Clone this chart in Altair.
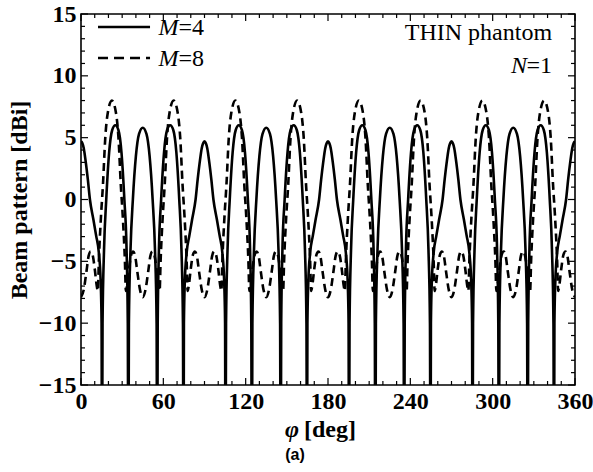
import altair as alt
import pandas as pd

# ---------------- data ----------------
# M=4 (solid), four quarter-periods
phi_m4_q1 = [0, 1, 2, 3.5, 5, 6.5, 9, 11, 13, 14.3, 15, 15.3, 15.7, 16.8, 18.4, 20.5, 22.7, 25, 27.3, 29.5, 31.6, 33.2,
             34.1, 34.5, 34.9, 36.1, 37.8, 40, 42.3, 45, 47.7, 50, 52.2, 53.9, 55.1, 55.5, 55.9, 56.8, 58.4, 60.5, 62.7, 65,
             67.3, 69.5, 71.6, 73.2, 74.3, 74.7, 75, 75.7, 77, 79, 81, 83.5, 85, 86.5, 88, 89]
bp_m4_q1 = [4.7, 4.55, 4.15, 3.0, 1.6, 0, -1.6, -2.9, -4.3, -6.5, -10, -25, -10, -4, 0, 3.8, 5.6, 6.0, 5.6, 3.8, 0, -4,
            -10, -25, -10, -4, 0, 3.5, 5.3, 5.8, 5.3, 3.5, 0, -4, -10, -25, -10, -4, 0, 3.8, 5.6, 6.0,
            5.6, 3.8, 0, -4, -10, -25, -10, -6.5, -4.3, -2.9, -1.6, 0, 1.6, 3.0, 4.15, 4.55]
phi_m4_q2 = [90, 91, 92, 93.5, 95, 96.5, 99, 101, 103, 104.3, 105, 105.3, 105.7, 106.8, 108.4, 110.5, 112.7, 115, 117.3, 119.5, 121.6, 123.2,
             124.1, 124.5, 124.9, 126.1, 127.8, 130, 132.3, 135, 137.7, 140, 142.2, 143.9, 145.1, 145.5, 145.9, 146.8, 148.4, 150.5, 152.7, 155,
             157.3, 159.5, 161.6, 163.2, 164.3, 164.7, 165, 165.7, 167, 169, 171, 173.5, 175, 176.5, 178, 179]
bp_m4_q2 = [4.7, 4.55, 4.15, 3.0, 1.6, 0, -1.6, -2.9, -4.3, -6.5, -10, -25, -10, -4, 0, 3.8, 5.6, 6.0, 5.6, 3.8, 0, -4,
            -10, -25, -10, -4, 0, 3.5, 5.3, 5.8, 5.3, 3.5, 0, -4, -10, -25, -10, -4, 0, 3.8, 5.6, 6.0,
            5.6, 3.8, 0, -4, -10, -25, -10, -6.5, -4.3, -2.9, -1.6, 0, 1.6, 3.0, 4.15, 4.55]
phi_m4_q3 = [180, 181, 182, 183.5, 185, 186.5, 189, 191, 193, 194.3, 195, 195.3, 195.7, 196.8, 198.4, 200.5, 202.7, 205, 207.3, 209.5, 211.6, 213.2,
             214.1, 214.5, 214.9, 216.1, 217.8, 220, 222.3, 225, 227.7, 230, 232.2, 233.9, 235.1, 235.5, 235.9, 236.8, 238.4, 240.5, 242.7, 245,
             247.3, 249.5, 251.6, 253.2, 254.3, 254.7, 255, 255.7, 257, 259, 261, 263.5, 265, 266.5, 268, 269]
bp_m4_q3 = [4.7, 4.55, 4.15, 3.0, 1.6, 0, -1.6, -2.9, -4.3, -6.5, -10, -25, -10, -4, 0, 3.8, 5.6, 6.0, 5.6, 3.8, 0, -4,
            -10, -25, -10, -4, 0, 3.5, 5.3, 5.8, 5.3, 3.5, 0, -4, -10, -25, -10, -4, 0, 3.8, 5.6, 6.0,
            5.6, 3.8, 0, -4, -10, -25, -10, -6.5, -4.3, -2.9, -1.6, 0, 1.6, 3.0, 4.15, 4.55]
phi_m4_q4 = [270, 271, 272, 273.5, 275, 276.5, 279, 281, 283, 284.3, 285, 285.3, 285.7, 286.8, 288.4, 290.5, 292.7, 295, 297.3, 299.5, 301.6, 303.2,
             304.1, 304.5, 304.9, 306.1, 307.8, 310, 312.3, 315, 317.7, 320, 322.2, 323.9, 325.1, 325.5, 325.9, 326.8, 328.4, 330.5, 332.7, 335,
             337.3, 339.5, 341.6, 343.2, 344.3, 344.7, 345, 345.7, 347, 349, 351, 353.5, 355, 356.5, 358, 359, 360]
bp_m4_q4 = [4.7, 4.55, 4.15, 3.0, 1.6, 0, -1.6, -2.9, -4.3, -6.5, -10, -25, -10, -4, 0, 3.8, 5.6, 6.0, 5.6, 3.8, 0, -4,
            -10, -25, -10, -4, 0, 3.5, 5.3, 5.8, 5.3, 3.5, 0, -4, -10, -25, -10, -4, 0, 3.8, 5.6, 6.0,
            5.6, 3.8, 0, -4, -10, -25, -10, -6.5, -4.3, -2.9, -1.6, 0, 1.6, 3.0, 4.15, 4.55, 4.7]

# M=8 (dashed), four quarter-periods
phi_m8_q1 = [0, 2, 4, 5.5, 7, 8.5, 10, 11.5, 12.3, 13, 14.5, 16, 17.7, 19.5, 22.5, 25.5, 27.3, 29, 30.5, 32,
             32.7, 33.5, 35, 36.5, 38, 39.5, 41, 43, 45, 47, 49, 50.5, 52, 53.5, 55, 56.5, 57.3, 58, 59.5, 61,
             62.7, 64.5, 67.5, 70.5, 72.3, 74, 75.5, 77, 77.7, 78.5, 80, 81.5, 83, 84.5, 86, 88]
bp_m8_q1 = [-7.9, -7.3, -5.8, -4.6, -4.2, -4.5, -5.6, -7.0, -7.4, -5.0, -1.5, 1.2, 5.0, 7.0, 8.0, 7.0, 5.0, 1.2, -1.5, -5.0,
            -7.4, -7.0, -5.6, -4.5, -4.2, -4.6, -5.8, -7.3, -7.9, -7.3, -5.8, -4.6, -4.2, -4.5, -5.6, -7.0, -7.4, -5.0, -1.5, 1.2,
            5.0, 7.0, 8.0, 7.0, 5.0, 1.2, -1.5, -5.0, -7.4, -7.0, -5.6, -4.5, -4.2, -4.6, -5.8, -7.3]
phi_m8_q2 = [90, 92, 94, 95.5, 97, 98.5, 100, 101.5, 102.3, 103, 104.5, 106, 107.7, 109.5, 112.5, 115.5, 117.3, 119, 120.5, 122,
             122.7, 123.5, 125, 126.5, 128, 129.5, 131, 133, 135, 137, 139, 140.5, 142, 143.5, 145, 146.5, 147.3, 148, 149.5, 151,
             152.7, 154.5, 157.5, 160.5, 162.3, 164, 165.5, 167, 167.7, 168.5, 170, 171.5, 173, 174.5, 176, 178]
bp_m8_q2 = [-7.9, -7.3, -5.8, -4.6, -4.2, -4.5, -5.6, -7.0, -7.4, -5.0, -1.5, 1.2, 5.0, 7.0, 8.0, 7.0, 5.0, 1.2, -1.5, -5.0,
            -7.4, -7.0, -5.6, -4.5, -4.2, -4.6, -5.8, -7.3, -7.9, -7.3, -5.8, -4.6, -4.2, -4.5, -5.6, -7.0, -7.4, -5.0, -1.5, 1.2,
            5.0, 7.0, 8.0, 7.0, 5.0, 1.2, -1.5, -5.0, -7.4, -7.0, -5.6, -4.5, -4.2, -4.6, -5.8, -7.3]
phi_m8_q3 = [180, 182, 184, 185.5, 187, 188.5, 190, 191.5, 192.3, 193, 194.5, 196, 197.7, 199.5, 202.5, 205.5, 207.3, 209, 210.5, 212,
             212.7, 213.5, 215, 216.5, 218, 219.5, 221, 223, 225, 227, 229, 230.5, 232, 233.5, 235, 236.5, 237.3, 238, 239.5, 241,
             242.7, 244.5, 247.5, 250.5, 252.3, 254, 255.5, 257, 257.7, 258.5, 260, 261.5, 263, 264.5, 266, 268]
bp_m8_q3 = [-7.9, -7.3, -5.8, -4.6, -4.2, -4.5, -5.6, -7.0, -7.4, -5.0, -1.5, 1.2, 5.0, 7.0, 8.0, 7.0, 5.0, 1.2, -1.5, -5.0,
            -7.4, -7.0, -5.6, -4.5, -4.2, -4.6, -5.8, -7.3, -7.9, -7.3, -5.8, -4.6, -4.2, -4.5, -5.6, -7.0, -7.4, -5.0, -1.5, 1.2,
            5.0, 7.0, 8.0, 7.0, 5.0, 1.2, -1.5, -5.0, -7.4, -7.0, -5.6, -4.5, -4.2, -4.6, -5.8, -7.3]
phi_m8_q4 = [270, 272, 274, 275.5, 277, 278.5, 280, 281.5, 282.3, 283, 284.5, 286, 287.7, 289.5, 292.5, 295.5, 297.3, 299, 300.5, 302,
             302.7, 303.5, 305, 306.5, 308, 309.5, 311, 313, 315, 317, 319, 320.5, 322, 323.5, 325, 326.5, 327.3, 328, 329.5, 331,
             332.7, 334.5, 337.5, 340.5, 342.3, 344, 345.5, 347, 347.7, 348.5, 350, 351.5, 353, 354.5, 356, 358, 360]
bp_m8_q4 = [-7.9, -7.3, -5.8, -4.6, -4.2, -4.5, -5.6, -7.0, -7.4, -5.0, -1.5, 1.2, 5.0, 7.0, 8.0, 7.0, 5.0, 1.2, -1.5, -5.0,
            -7.4, -7.0, -5.6, -4.5, -4.2, -4.6, -5.8, -7.3, -7.9, -7.3, -5.8, -4.6, -4.2, -4.5, -5.6, -7.0, -7.4, -5.0, -1.5, 1.2,
            5.0, 7.0, 8.0, 7.0, 5.0, 1.2, -1.5, -5.0, -7.4, -7.0, -5.6, -4.5, -4.2, -4.6, -5.8, -7.3, -7.9]

x_tick_labels = [0, 60, 120, 180, 240, 300, 360]
y_tick_labels = [-15, -10, -5, 0, 5, 10, 15]

# ---------------- tables ----------------
m4 = pd.DataFrame({"phi": phi_m4_q1 + phi_m4_q2 + phi_m4_q3 + phi_m4_q4,
                   "bp": bp_m4_q1 + bp_m4_q2 + bp_m4_q3 + bp_m4_q4})
m8 = pd.DataFrame({"phi": phi_m8_q1 + phi_m8_q2 + phi_m8_q3 + phi_m8_q4,
                   "bp": bp_m8_q1 + bp_m8_q2 + bp_m8_q3 + bp_m8_q4})

W, H = 494, 371
SERIF = "Liberation Serif"
FS = 24
LW = 2.6

xs = alt.Scale(domain=[0, 360], nice=False, zero=False)
ys = alt.Scale(domain=[-15, 15], nice=False, zero=False)
x_axis = alt.Axis(values=x_tick_labels, title=None, ticks=False, tickSize=0, domain=False, grid=False,
                  labelFont=SERIF, labelFontSize=FS, labelFontWeight="bold", labelColor="black",
                  labelPadding=4, labelFlush=False, labelOverlap=False)
y_axis = alt.Axis(values=y_tick_labels, title="Beam pattern [dBi]", ticks=False, tickSize=0, domain=False, grid=False,
                  labelFont=SERIF, labelFontSize=FS, labelFontWeight="bold", labelColor="black",
                  labelPadding=5, labelFlush=False, labelOverlap=False,
                  titleFont=SERIF, titleFontSize=FS, titleFontWeight="bold", titleColor="black", titlePadding=7)

X = alt.X("phi:Q", scale=xs, axis=x_axis)
Y = alt.Y("bp:Q", scale=ys, axis=y_axis)

line4 = alt.Chart(m4).mark_line(interpolate="monotone", clip=True, color="black", strokeWidth=LW).encode(x=X, y=Y)
line8 = alt.Chart(m8).mark_line(interpolate="monotone", clip=True, color="black", strokeWidth=LW,
                                strokeDash=[8, 5]).encode(x=X, y=Y)

# inward ticks
xmaj = pd.DataFrame({"phi": [v for v in range(0, 361, 10) if v % 60 == 0]})
xmin = pd.DataFrame({"phi": [v for v in range(0, 361, 10) if v % 60 != 0]})
ymaj = pd.DataFrame({"bp": [v for v in range(-15, 16) if v % 5 == 0]})
ymin = pd.DataFrame({"bp": [v for v in range(-15, 16) if v % 5 != 0]})
MAJ, MIN = 7, 4
tick_layers = []
for df, L in ((xmaj, MAJ), (xmin, MIN)):
    tick_layers.append(alt.Chart(df).mark_rule(color="black", strokeWidth=1.2).encode(
        x=X, y=alt.value(H), y2=alt.value(H - L)))
    tick_layers.append(alt.Chart(df).mark_rule(color="black", strokeWidth=1.2).encode(
        x=X, y=alt.value(0), y2=alt.value(L)))
for df, L in ((ymaj, MAJ), (ymin, MIN)):
    tick_layers.append(alt.Chart(df).mark_rule(color="black", strokeWidth=1.2).encode(
        y=Y, x=alt.value(0), x2=alt.value(L)))
    tick_layers.append(alt.Chart(df).mark_rule(color="black", strokeWidth=1.2).encode(
        y=Y, x=alt.value(W), x2=alt.value(W - L)))

# legend (in data coordinates)
leg_lines = pd.DataFrame({"phi": [12.4], "phi2": [50.3], "bp": [13.95]})
leg_lines8 = pd.DataFrame({"phi": [12.4], "phi2": [50.3], "bp": [11.44]})
legend_solid = alt.Chart(leg_lines).mark_rule(color="black", strokeWidth=LW).encode(
    x=X, x2="phi2:Q", y=Y)
legend_dash = alt.Chart(leg_lines8).mark_rule(color="black", strokeWidth=LW, strokeDash=[10, 6]).encode(
    x=X, x2="phi2:Q", y=Y)

leg_text = pd.DataFrame({"phi": [56.5, 56.5], "bp": [13.95, 11.44], "sym": ["M", "M"], "rest": ["=4", "=8"]})
leg_sym = alt.Chart(leg_text).mark_text(font=SERIF, fontSize=FS, fontStyle="italic", align="left",
                                        baseline="middle", dy=1, color="black").encode(x=X, y=Y, text="sym:N")
leg_rest = alt.Chart(leg_text).mark_text(font=SERIF, fontSize=FS, align="left", baseline="middle", dy=1,
                                         dx=20, color="black").encode(x=X, y=Y, text="rest:N")

ann = pd.DataFrame({"phi": [343.3], "bp": [13.5], "txt": ["THIN phantom"]})
ann_text = alt.Chart(ann).mark_text(font=SERIF, fontSize=FS, align="right", baseline="middle",
                                    color="black").encode(x=X, y=Y, text="txt:N")
ann2 = pd.DataFrame({"phi": [343.3], "bp": [10.8], "sym": ["N"], "rest": ["=1"]})
ann2_rest = alt.Chart(ann2).mark_text(font=SERIF, fontSize=FS, align="right", baseline="middle",
                                      color="black").encode(x=X, y=Y, text="rest:N")
ann2_sym = alt.Chart(ann2).mark_text(font=SERIF, fontSize=FS, fontStyle="italic", align="right",
                                     baseline="middle", dx=-25, color="black").encode(x=X, y=Y, text="sym:N")

# x-axis title and caption
xt = pd.DataFrame({"phi": [180], "phi_sym": ["φ"], "unit": ["[deg]"], "cap": ["(a)"]})
xt_sym = alt.Chart(xt).mark_text(font=SERIF, fontSize=FS, fontStyle="italic", fontWeight="bold", align="center",
                                 baseline="middle", dx=-36, color="black").encode(
    x=X, y=alt.value(H + 45), text="phi_sym:N")
xt_unit = alt.Chart(xt).mark_text(font=SERIF, fontSize=FS, fontWeight="bold", align="left",
                                  baseline="middle", dx=-24, color="black").encode(
    x=X, y=alt.value(H + 45), text="unit:N")
caption = alt.Chart(xt).mark_text(font="Liberation Sans", fontSize=16, fontWeight="bold", align="center",
                                  baseline="middle", dx=-33, color="black").encode(
    x=X, y=alt.value(H + 70), text="cap:N")

chart = alt.layer(
    line4, line8, *tick_layers, legend_solid, legend_dash, leg_sym, leg_rest,
    ann_text, ann2_rest, ann2_sym, xt_sym, xt_unit, caption
).properties(
    width=W, height=H,
    padding={"left": 81, "top": 14, "right": 18, "bottom": 87},
    autosize="none",
    background="white",
).configure_view(stroke="black", strokeWidth=1.6)

chart.save("out.html", embed_options={"renderer": "svg", "actions": False})
